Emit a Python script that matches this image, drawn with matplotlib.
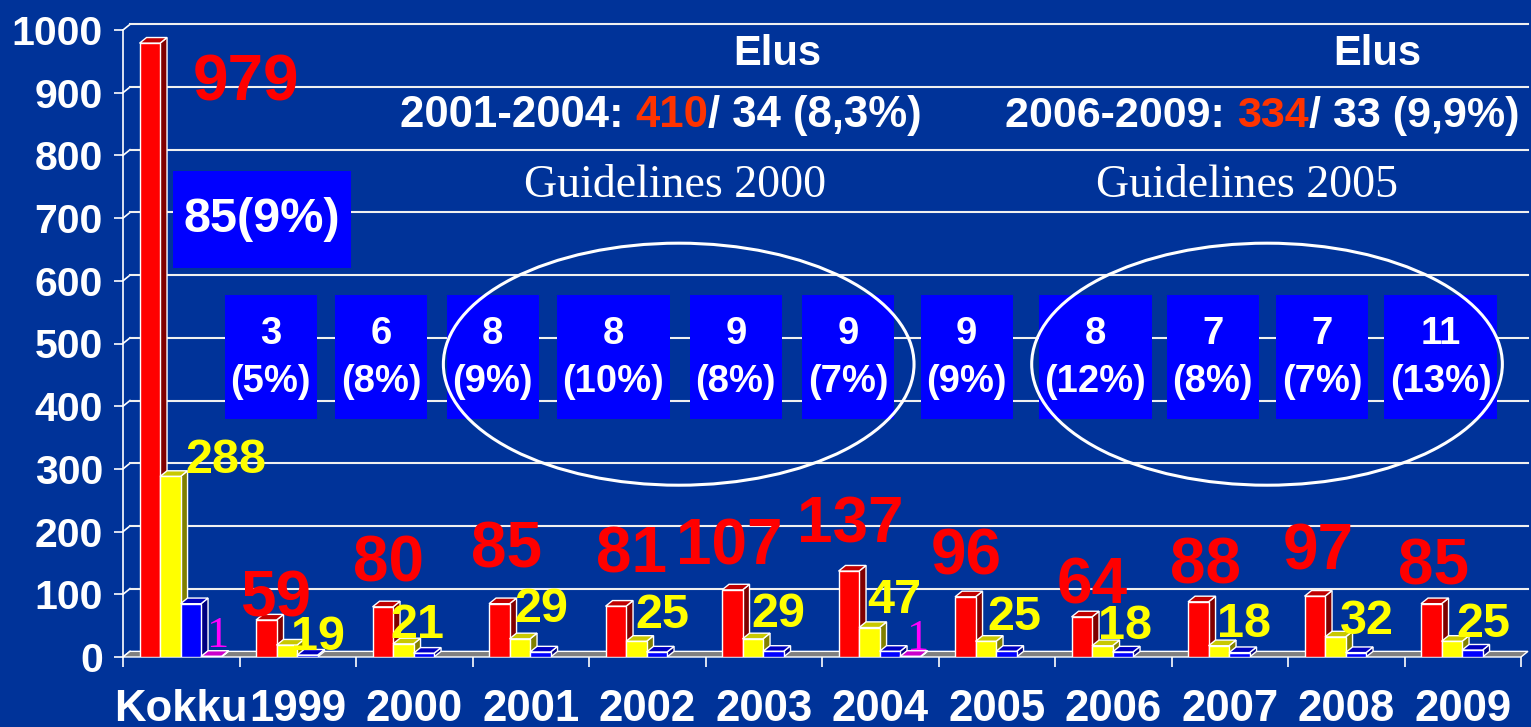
import numpy as np
import matplotlib.pyplot as plt
from matplotlib.patches import Polygon, Rectangle, Ellipse

plt.rcParams['font.family'] = ['Liberation Sans', 'DejaVu Sans']

# ---- data ----
categories = ['Kokku', '1999', '2000', '2001', '2002', '2003', '2004',
              '2005', '2006', '2007', '2008', '2009']
red_vals = [979, 59, 80, 85, 81, 107, 137, 96, 64, 88, 97, 85]
yellow_vals = [288, 19, 21, 29, 25, 29, 47, 25, 18, 18, 32, 25]
blue_vals = [85, 3, 6, 8, 8, 9, 9, 9, 8, 7, 7, 11]
magenta_vals = [1, 0, 0, 0, 0, 0, 1, 0, 0, 0, 0, 0]
yticks = list(range(0, 1001, 100))

# label placement (offset from category centre, value-axis baseline)
red_lbl_dx = [0.556, -0.195, -0.217, -0.204, -0.139, -0.298, -0.26, -0.264, -0.182, -0.204, -0.242, -0.247]
red_lbl_y = [888, 64, 120, 142, 134, 147, 182, 131, 86, 118, 139, 115]
yel_lbl_dx = [0.384, 0.174, 0.024, 0.088, 0.127, 0.122, 0.118, 0.148, 0.101, 0.122, 0.178, 0.174]
yel_lbl_y = [293, 11, 30, 56, 46, 48, 70, 43, 29, 32, 37, 32]
mag_lbl_dx = {0: 0.307, 6: 0.315}
mag_lbl_y = {0: 16, 6: 11}
box_dx = [None, -0.232, -0.283, -0.326, -0.292, -0.240, -0.275, -0.258, -0.155, -0.146, -0.206, -0.189]

BG = '#003399'
W, DX, DY = 0.176, 0.06, 9

fig = plt.figure(figsize=(15.31, 7.27), dpi=100)
fig.patch.set_facecolor(BG)
ax = fig.add_axes([123/1531, 70/727, 1398/1531, 627/727])
ax.set_facecolor(BG)
ax.set_xlim(-0.5, 11.5)
ax.set_ylim(0, 1000)

for s in ['top', 'right', 'bottom']:
    ax.spines[s].set_visible(False)
ax.spines['left'].set_color('white')
ax.spines['left'].set_linewidth(1.2)

# back-wall gridlines with a little depth
for v in yticks:
    ax.plot([-0.5, -0.5 + DX], [v, v + DY], color='white', lw=1.2, clip_on=False, zorder=1)
    if v > 0:
        ax.plot([-0.5 + DX, 11.5 + DX], [v + DY, v + DY], color='#f0f0f0', lw=1.5,
                clip_on=False, zorder=1)

# floor
ax.add_patch(Polygon([(-0.5, 0), (11.5, 0), (11.5 + DX, DY), (-0.5 + DX, DY)],
                     closed=True, facecolor='#808080', edgecolor='white', lw=1,
                     clip_on=False, zorder=2))

x = np.arange(len(categories))
series = [
    (red_vals, '#ff0000', '#c00000', '#800000'),
    (yellow_vals, '#ffff00', '#c8c800', '#808000'),
    (blue_vals, '#0000ff', '#0000c0', '#000080'),
    (magenta_vals, '#ff00ff', '#cc00cc', '#800080'),
]
for k, (vals, front, top, side) in enumerate(series):
    left = x - 0.5 + 0.142 + k * W
    z = 3 + k
    for xl, h in zip(left, vals):
        if h <= 0:
            continue
        ax.add_patch(Polygon([(xl + W, 0), (xl + W + DX, DY), (xl + W + DX, h + DY), (xl + W, h)],
                             closed=True, facecolor=side, edgecolor='white', lw=1, zorder=z))
        ax.add_patch(Polygon([(xl, h), (xl + DX, h + DY), (xl + W + DX, h + DY), (xl + W, h)],
                             closed=True, facecolor=top, edgecolor='white', lw=1, zorder=z))
    m = np.array(vals) > 0
    ax.bar(left[m], np.array(vals)[m], width=W, align='edge', color=front,
           edgecolor='white', linewidth=1, zorder=z)

# value labels
for i in range(len(categories)):
    ax.text(i + red_lbl_dx[i], red_lbl_y[i], str(red_vals[i]), color='#ff0000',
            fontsize=46, fontweight='bold', ha='center', va='baseline', zorder=10)
    ax.text(i + yel_lbl_dx[i], yel_lbl_y[i], str(yellow_vals[i]), color='#ffff00',
            fontsize=35, fontweight='bold', ha='center', va='baseline', zorder=10)
    if magenta_vals[i] > 0:
        ax.text(i + mag_lbl_dx[i], mag_lbl_y[i], str(magenta_vals[i]), color='#ff00ff',
                fontsize=32, family='Liberation Serif', ha='center', va='baseline', zorder=10)

# blue count boxes
pct = [round(b / r * 100) for b, r in zip(blue_vals, red_vals)]
ax.add_patch(Rectangle((-0.071, 620), 1.528, 155, facecolor='#0000ff', edgecolor='none', zorder=8))
ax.text(0.693, 697, f'{blue_vals[0]}({pct[0]}%)', color='white', fontsize=35,
        fontweight='bold', ha='center', va='center', zorder=9)
for i in range(1, len(categories)):
    w = 0.97 if pct[i] >= 10 else 0.79
    cx = i + box_dx[i]
    ax.add_patch(Rectangle((cx - w / 2, 380), w, 197, facecolor='#0000ff',
                           edgecolor='none', zorder=8))
    ax.text(cx, 477, f'{blue_vals[i]}\n({pct[i]}%)', color='white', fontsize=27.5,
            fontweight='bold', ha='center', va='center', linespacing=1.45, zorder=9)

# ellipses around guideline periods
for cx in (4.27, 9.32):
    ax.add_patch(Ellipse((cx, 467), 4.04, 386, facecolor='none', edgecolor='white',
                         lw=2.2, zorder=9))


def color_line(x0, y0, parts, size):
    t = ax.text(x0, y0, parts[0][0], color=parts[0][1], transform=ax.transAxes,
                fontsize=size, fontweight='bold', ha='left', va='baseline', zorder=10)
    for s, c in parts[1:]:
        t = ax.annotate(s, xy=(1, 0), xycoords=t, ha='left', va='bottom', color=c,
                        fontsize=size, fontweight='bold', zorder=10)


ax.text(0.468, 0.944, 'Elus', color='white', fontsize=30, fontweight='bold',
        ha='center', va='baseline', transform=ax.transAxes)
ax.text(0.897, 0.944, 'Elus', color='white', fontsize=30, fontweight='bold',
        ha='center', va='baseline', transform=ax.transAxes)
color_line(0.198, 0.845, [('2001-2004: ', 'white'), ('410', '#ff3300'),
                          ('/ 34 (8,3%)', 'white')], 31.5)
color_line(0.631, 0.845, [('2006-2009: ', 'white'), ('334', '#ff3300'),
                          ('/ 33 (9,9%)', 'white')], 31)
ax.text(0.395, 0.734, 'Guidelines 2000', color='white', fontsize=33,
        family='Liberation Serif', ha='center', va='baseline', transform=ax.transAxes)
ax.text(0.804, 0.734, 'Guidelines 2005', color='white', fontsize=33,
        family='Liberation Serif', ha='center', va='baseline', transform=ax.transAxes)

# axes ticks
ax.set_yticks(yticks)
ax.set_xticks(x)
ax.set_xticklabels(categories)
ax.set_xticks(np.arange(-0.5, 12, 1), minor=True)
ax.tick_params(axis='y', length=6.5, width=1.2, color='white', labelcolor='white',
               labelsize=29.5, pad=8)
ax.tick_params(axis='x', which='major', length=0, labelcolor='white', labelsize=31.5, pad=23)
ax.tick_params(axis='x', which='minor', length=7, width=1.2, color='white')
for lbl in ax.get_xticklabels() + ax.get_yticklabels():
    lbl.set_fontweight('bold')

fig.savefig('out.png', dpi=100, facecolor=BG)
